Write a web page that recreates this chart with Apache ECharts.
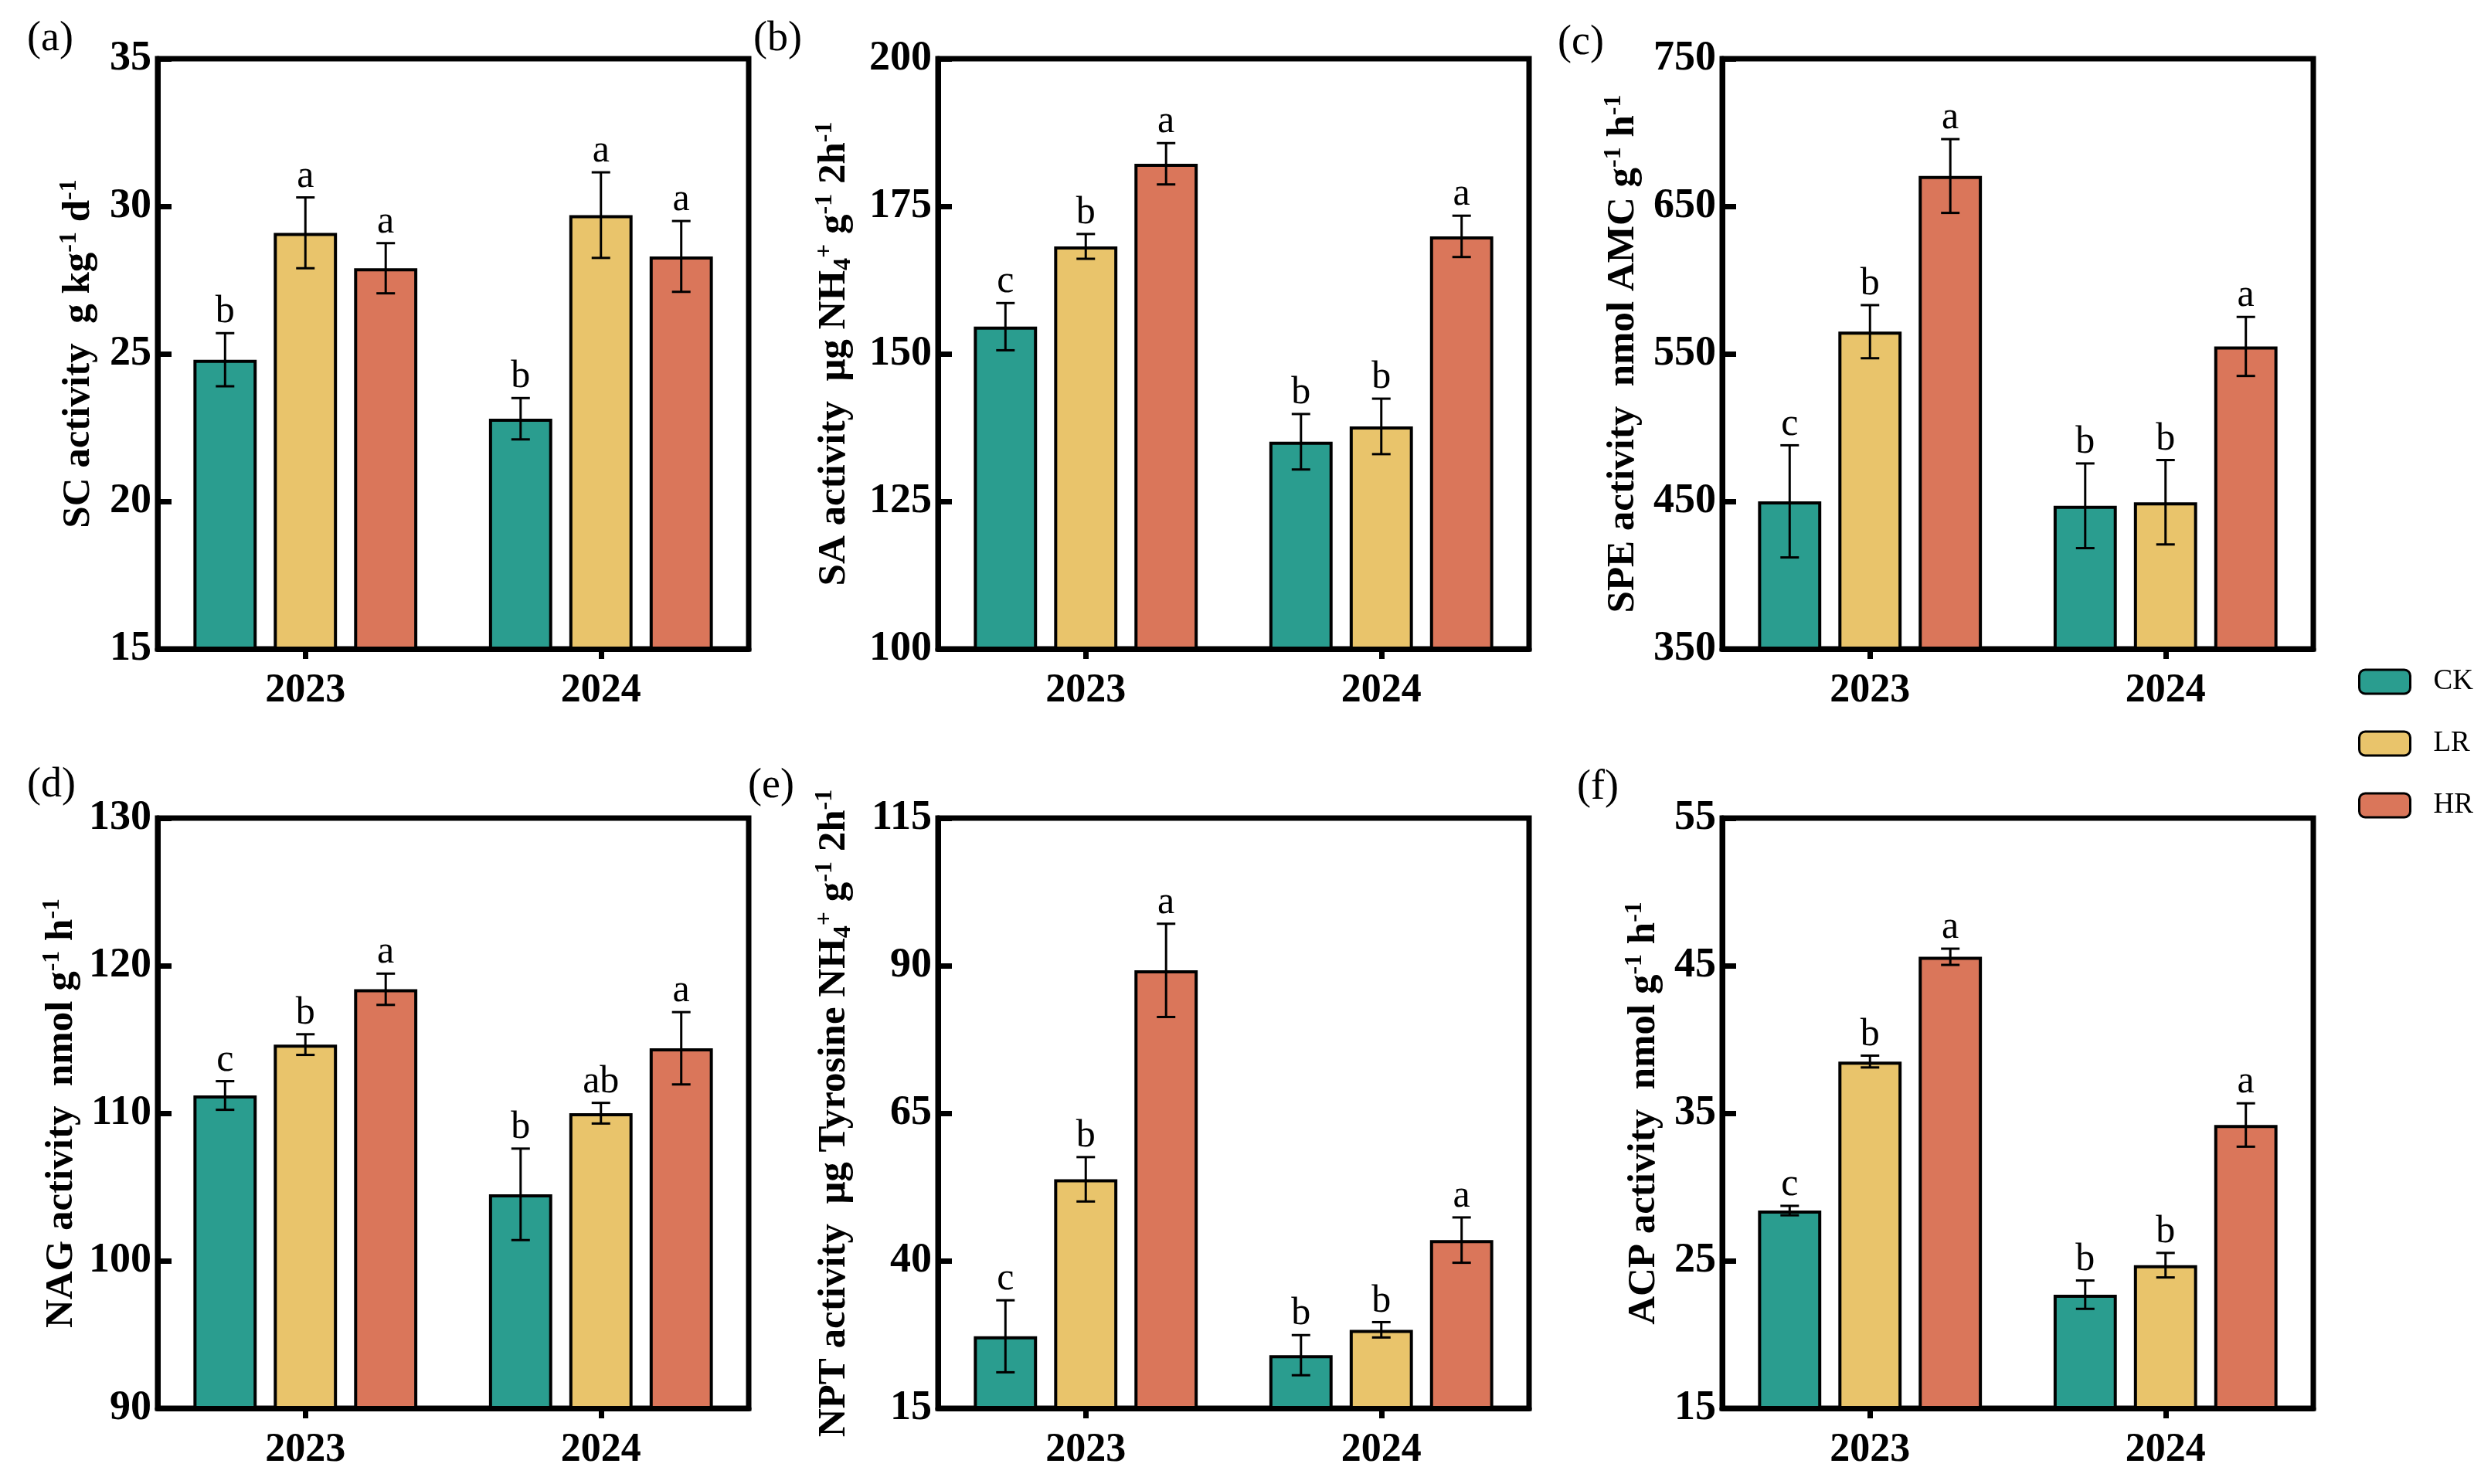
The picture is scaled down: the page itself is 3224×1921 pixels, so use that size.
<!DOCTYPE html>
<html>
<head>
<meta charset="utf-8">
<script src="https://cdn.jsdelivr.net/npm/echarts@6/dist/echarts.min.js"></script>
<style>
  html, body { margin: 0; padding: 0; background: #fff; }
  #chart { width: 3224px; height: 1921px; }
</style>
</head>
<body>
<div id="chart"></div>
<script>
const years = ['2023', '2024']
const groups = ['CK', 'LR', 'HR']
const colors = ['#2a9d8f', '#e9c46b', '#da765a']

// rows: CK, LR, HR ; columns: 2023, 2024
const scMean = [[24.8, 22.8], [29.1, 29.7], [27.9, 28.3]]
const scErr = [[0.9, 0.7], [1.2, 1.45], [0.85, 1.2]]
const scSig = [['b', 'b'], ['a', 'a'], ['a', 'a']]

const saMean = [[154.6, 135.1], [168.2, 137.7], [182.2, 169.9]]
const saErr = [[4.0, 4.7], [2.1, 4.7], [3.5, 3.5]]
const saSig = [['c', 'b'], ['b', 'b'], ['a', 'a']]

const speMean = [[450, 447], [565, 449.4], [670.5, 555]]
const speErr = [[38, 28.7], [18, 28.6], [25, 20]]
const speSig = [['c', 'b'], ['b', 'b'], ['a', 'a']]

const nagMean = [[111.2, 104.5], [114.65, 110.0], [118.4, 114.4]]
const nagErr = [[0.97, 3.1], [0.7, 0.7], [1.06, 2.45]]
const nagSig = [['c', 'b'], ['b', 'ab'], ['a', 'a']]

const nptMean = [[27.2, 24.0], [53.8, 28.3], [89.2, 43.5]]
const nptErr = [[6.1, 3.4], [3.76, 1.3], [7.9, 3.84]]
const nptSig = [['c', 'b'], ['b', 'b'], ['a', 'a']]

const acpMean = [[28.4, 22.7], [38.5, 24.7], [45.6, 34.2]]
const acpErr = [[0.32, 0.96], [0.4, 0.83], [0.55, 1.47]]
const acpSig = [['c', 'b'], ['b', 'b'], ['a', 'a']]

const FONT = 'Liberation Serif'
const BAR_W = 0.214 // share of category band
const BAR_GAP = 0.27 // share of bar width

const panels = [
  { tag: '(a)', tagPos: [35, 51], name: '{b|SC activity  g kg}{s|-1}{b| d}{s|-1}', min: 15, max: 35, step: 5, mean: scMean, err: scErr, sig: scSig, col: 0, row: 0, gap: 74 },
  { tag: '(b)', tagPos: [975, 51], name: '{b|SA activity  μg NH}{u|4}{s|+}{b| g}{s|-1}{b| 2h}{s|-1}', min: 100, max: 200, step: 25, mean: saMean, err: saErr, sig: saSig, col: 1, row: 0, gap: 106 },
  { tag: '(c)', tagPos: [2016, 56], name: '{b|SPE activity  nmol AMC g}{s|-1}{b| h}{s|-1}', min: 350, max: 750, step: 100, mean: speMean, err: speErr, sig: speSig, col: 2, row: 0, gap: 100 },
  { tag: '(d)', tagPos: [35, 1017], name: '{b|NAG activity  nmol g}{s|-1}{b| h}{s|-1}', min: 90, max: 130, step: 10, mean: nagMean, err: nagErr, sig: nagSig, col: 0, row: 1, gap: 96 },
  { tag: '(e)', tagPos: [968, 1018], name: '{b|NPT activity  μg Tyrosine NH}{u|4}{s|+}{b| g}{s|-1}{b| 2h}{s|-1}', min: 15, max: 115, step: 25, mean: nptMean, err: nptErr, sig: nptSig, col: 1, row: 1, gap: 106 },
  { tag: '(f)', tagPos: [2041, 1020], name: '{b|ACP activity  nmol g}{s|-1}{b| h}{s|-1}', min: 15, max: 55, step: 10, mean: acpMean, err: acpErr, sig: acpSig, col: 2, row: 1, gap: 73 }
]

const colLeft = [204, 1214, 2229]
const rowTop = [76, 1059]

const grid = [], xAxis = [], yAxis = [], series = [], graphic = []

panels.forEach((p, pi) => {
  grid.push({
    left: colLeft[p.col], top: rowTop[p.row], width: 765, height: 764,
    show: true, borderColor: '#000', borderWidth: 7, backgroundColor: 'transparent'
  })
  xAxis.push({
    type: 'category', gridIndex: pi, data: years, z: 10,
    axisLine: { show: true, lineStyle: { color: '#000', width: 7 } },
    axisTick: { show: true, alignWithLabel: true, length: 13, lineStyle: { color: '#000', width: 7 } },
    axisLabel: { color: '#000', fontFamily: FONT, fontWeight: 'bold', fontSize: 52, margin: 29 }
  })
  yAxis.push({
    type: 'value', gridIndex: pi, min: p.min, max: p.max, interval: p.step, z: 10,
    splitLine: { show: false },
    axisLine: { show: true, lineStyle: { color: '#000', width: 7 } },
    axisTick: { show: true, inside: true, length: 18, lineStyle: { color: '#000', width: 7 } },
    axisLabel: { color: '#000', fontFamily: FONT, fontWeight: 'bold', fontSize: 54, margin: 8 },
    name: p.name, nameLocation: 'middle', nameRotate: 90, nameGap: p.gap,
    nameTextStyle: {
      color: '#000', fontFamily: FONT,
      rich: {
        b: { fontFamily: FONT, fontWeight: 'bold', fontSize: 51, lineHeight: 56, color: '#000' },
        s: { fontFamily: FONT, fontWeight: 'bold', fontSize: 32, lineHeight: 32, verticalAlign: 'top', color: '#000' },
        u: { fontFamily: FONT, fontWeight: 'bold', fontSize: 32, lineHeight: 32, verticalAlign: 'bottom', color: '#000' }
      }
    }
  })

  groups.forEach((g, gi) => {
    series.push({
      type: 'bar', name: g, xAxisIndex: pi, yAxisIndex: pi,
      data: p.mean[gi],
      barWidth: (BAR_W * 100) + '%', barGap: (BAR_GAP * 100) + '%',
      itemStyle: { color: colors[gi], borderColor: '#000', borderWidth: 4 },
      emphasis: { disabled: true }
    })
    // error bars + significance letters
    series.push({
      type: 'custom', xAxisIndex: pi, yAxisIndex: pi, z: 6, silent: true,
      data: years.map((y, i) => [i, p.mean[gi][i], p.err[gi][i]]),
      renderItem(params, api) {
        const band = api.size([1, 0])[0]
        const bw = band * BAR_W
        const off = (gi - 1) * bw * (1 + BAR_GAP)
        const hi = api.coord([api.value(0), api.value(1) + api.value(2)])
        const lo = api.coord([api.value(0), api.value(1) - api.value(2)])
        const x = hi[0] + off
        const cap = 12
        const ls = { stroke: '#000', lineWidth: 3 }
        return {
          type: 'group',
          children: [
            { type: 'line', shape: { x1: x, y1: hi[1], x2: x, y2: lo[1] }, style: ls },
            { type: 'line', shape: { x1: x - cap, y1: hi[1], x2: x + cap, y2: hi[1] }, style: ls },
            { type: 'line', shape: { x1: x - cap, y1: lo[1], x2: x + cap, y2: lo[1] }, style: ls },
            {
              type: 'text',
              style: {
                text: p.sig[gi][params.dataIndex], x: x, y: hi[1] - 2,
                align: 'center', verticalAlign: 'bottom',
                font: '50px "' + FONT + '"', fill: '#000'
              }
            }
          ]
        }
      }
    })
  })

  graphic.push({
    type: 'text', left: p.tagPos[0], top: p.tagPos[1] - 27,
    style: { text: p.tag, font: '54px "' + FONT + '"', fill: '#000' }
  })
})

const chart = echarts.init(document.getElementById('chart'))
chart.setOption({
  animation: false,
  backgroundColor: '#fff',
  textStyle: { fontFamily: FONT },
  grid, xAxis, yAxis, series, graphic,
  legend: {
    data: groups, orient: 'vertical', left: 3047, top: 859,
    itemWidth: 66, itemHeight: 31, itemGap: 43,
    itemStyle: { borderColor: '#000', borderWidth: 3 },
    textStyle: { fontFamily: FONT, fontSize: 37, color: '#000', padding: [0, 0, 0, 25] }
  }
})
</script>
</body>
</html>
